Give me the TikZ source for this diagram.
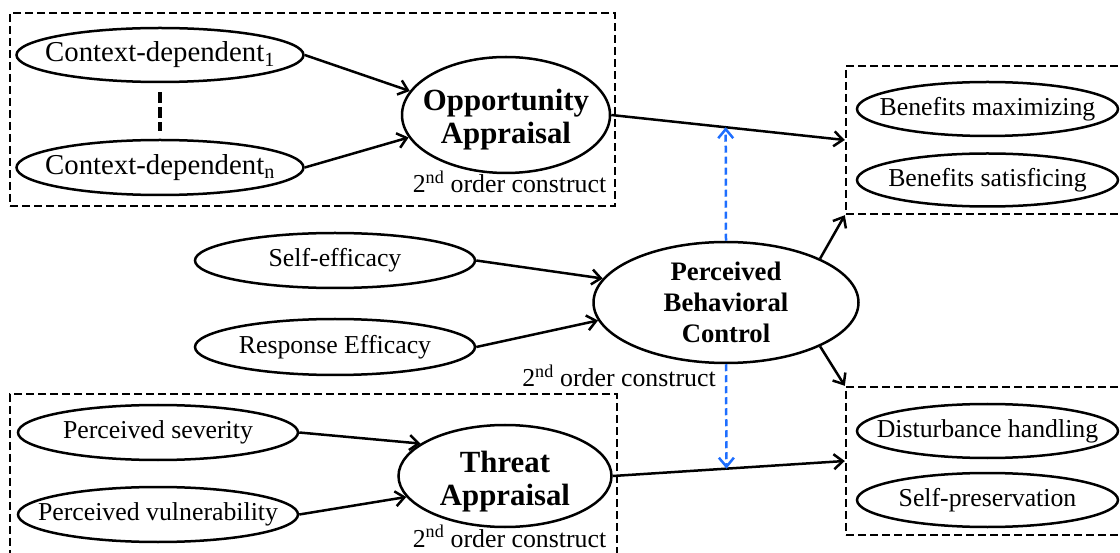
\documentclass[tikz,border=0pt]{standalone}
\usepackage{fontspec}
\setmainfont{Liberation Serif}
\usetikzlibrary{arrows.meta,shapes.geometric,calc}
\definecolor{linkblue}{RGB}{30,110,255}

\tikzset{
  oval/.style 2 args={ellipse, draw, line width=2.5pt, inner sep=0pt, minimum width=#1pt, minimum height=#2pt},
  groupbox/.style 2 args={draw, line width=2.4pt, dash pattern=on 8pt off 4pt, inner sep=0pt, minimum width=#1pt, minimum height=#2pt},
  conn/.style={line width=2.5pt, -{Straight Barb[length=9pt,width=15pt]}},
  bluelink/.style={conn, linkblue, dash pattern=on 7pt off 4pt},
  heading/.style={align=center, font=\fontsize{30.8pt}{33pt}\selectfont\bfseries},
  pbchead/.style={align=center, font=\fontsize{26.7pt}{31pt}\selectfont\bfseries},
  ctxlabel/.style={font=\fontsize{28.8pt}{32pt}\selectfont},
  note/.style={anchor=base, inner sep=0pt},
  vdots/.style={line width=3.5pt, dash pattern=on 11pt off 4pt}
}

\begin{document}
\begin{tikzpicture}[x=1pt, y=-1pt, font=\fontsize{25.8pt}{30pt}\selectfont]
  \useasboundingbox (0,0) rectangle (1120,553);

  %%%%% frames %%%%%
  \node[groupbox={605}{193}] (oppbox) at (312.5,109.5) {};
  \node[groupbox={607}{166}] (thrbox) at (313.5,477) {};
  \node[groupbox={284}{148}] (benbox) at (988,140) {};
  \node[groupbox={284}{148}] (behbox) at (988,461) {};

  %%%%% opportunity appraisal %%%%%
  \node[oval={287}{54}, label={[ctxlabel]center:Context-dependent\textsubscript{1}}] (cd1) at (160,55) {};
  \node[oval={287}{55}, label={[ctxlabel]center:Context-dependent\textsubscript{n}}] (cdn) at (160,167.5) {};
  \node[oval={208}{116}, label={[heading,yshift=-5pt]center:Opportunity\\Appraisal}] (opp) at (506,115) {};
  \node[note] (oppnote) at (509.5,193) {2\textsuperscript{nd} order construct};

  %%%%% perceived behavioral control %%%%%
  \node[oval={280}{55}, label=center:{Self-efficacy}] (sef) at (335,260.5) {};
  \node[oval={280}{56}, label=center:{Response Efficacy}] (ref) at (335,347) {};
  \node[oval={265}{121}, label={[pbchead]center:Perceived\\Behavioral\\Control}] (pbc) at (726,302.5) {};
  \node[note] (pbcnote) at (619,387) {2\textsuperscript{nd} order construct};

  %%%%% threat appraisal %%%%%
  \node[oval={280}{55}, label=center:{Perceived severity}] (sev) at (158,432.5) {};
  \node[oval={280}{55}, label=center:{Perceived vulnerability}] (vul) at (158,514.5) {};
  \node[oval={213}{102}, label={[heading,yshift=-6pt]center:Threat\\Appraisal}] (thr) at (505,476) {};
  \node[note] (thrnote) at (509.5,547) {2\textsuperscript{nd} order construct};

  %%%%% behaviours %%%%%
  \node[oval={261}{54}, label=center:{Benefits maximizing}] (bmax) at (987.5,109) {};
  \node[oval={261}{53}, label=center:{Benefits satisficing}] (bsat) at (987.5,180) {};
  \node[oval={261}{54}, label=center:{Disturbance handling}] (dist) at (987.5,431) {};
  \node[oval={261}{54}, label=center:{Self-preservation}] (spres) at (987.5,500) {};

  %%%%% connectors %%%%%
  \draw[vdots] ([yshift=-9pt]cd1.south) -- ([yshift=8pt]cdn.north);
  \draw[conn] (cd1.east) -- (opp.166);
  \draw[conn] (cdn.east) -- (opp.193);
  \draw[conn] (opp.east) -- (benbox.west);

  \draw[conn] (sef.east) -- (pbc.169);
  \draw[conn] (ref.east) -- (pbc.188);
  \draw[conn] (pbc.25) -- (benbox.south west);
  \draw[conn] (pbc.-25) -- (behbox.north west);

  \draw[conn] (sev.east) -- (thr.159);
  \draw[conn] (vul.east) -- (thr.192);
  \draw[conn] (thr.east) -- (behbox.west);

  \draw[bluelink] (pbc.north) -- ($(opp.east)!0.49!(benbox.west)$);
  \draw[bluelink] (pbc.south) -- ($(thr.east)!0.49!(behbox.west)$);
\end{tikzpicture}
\end{document}
